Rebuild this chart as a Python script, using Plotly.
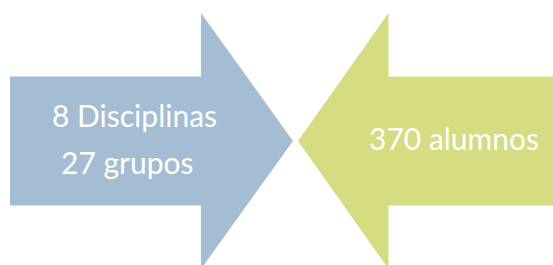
import plotly.graph_objects as go

# Diagram content
labels_left = ["8 Disciplinas", "27 grupos"]
labels_right = ["370 alumnos"]
colors = ["#A5BDD3", "#D5DC82"]

W, H = 553, 265

# Arrow geometry (pixel space)
cy = 141
shaft_half = 64.5
head_half = 128
left = dict(x0=10, xb=201, xt=293)
right = dict(x0=600, xb=388.5, xt=298)

def arrow(x0, xb, xt):
    xs = [x0, xb, xb, xt, xb, xb, x0, x0]
    ys = [cy - shaft_half, cy - shaft_half, cy - head_half, cy,
          cy + head_half, cy + shaft_half, cy + shaft_half, cy - shaft_half]
    return xs, ys

fig = go.Figure()
for geo, col in [(left, colors[0]), (right, colors[1])]:
    xs, ys = arrow(geo["x0"], geo["xb"], geo["xt"])
    fig.add_trace(go.Scatter(x=xs, y=ys, mode="lines", fill="toself",
                             fillcolor=col, line=dict(width=0, color=col),
                             hoverinfo="skip", showlegend=False))

font = dict(family="Lato, 'Open Sans', sans-serif", size=30, color="white")
text_pos = [(134.5, 115, labels_left[0]), (127.5, 162, labels_left[1]),
            (453.5, 138, labels_right[0])]
for x, y, t in text_pos:
    fig.add_annotation(x=x, y=y, text=t, showarrow=False, font=font,
                       xanchor="center", yanchor="middle")

fig.update_layout(width=W, height=H, margin=dict(l=0, r=0, t=0, b=0),
                  paper_bgcolor="white", plot_bgcolor="white")
fig.update_xaxes(range=[0, W], visible=False, fixedrange=True)
fig.update_yaxes(range=[H, 0], visible=False, fixedrange=True)
fig.write_html("out.html", config={"displayModeBar": False},
               post_script="document.body.style.margin='0';document.body.style.overflow='hidden';")
